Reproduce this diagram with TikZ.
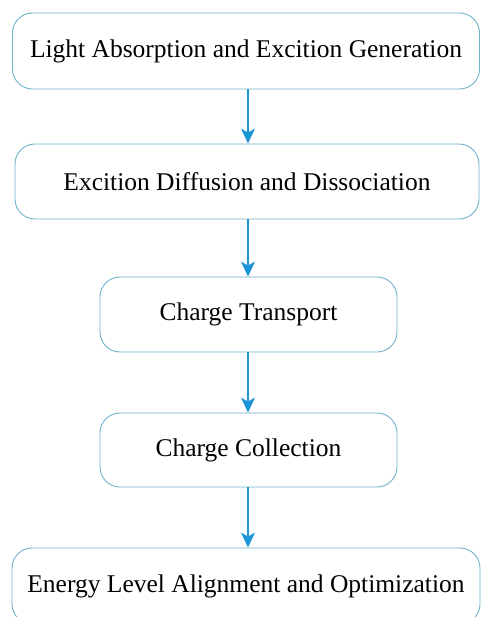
\documentclass[tikz,border=0pt]{standalone}
\usepackage{fontspec}
\setmainfont{Liberation Serif}
\usepackage{tikz}
\usetikzlibrary{arrows.meta}
\definecolor{boxline}{RGB}{112,178,202}
\definecolor{arrowblue}{RGB}{28,150,214}

\tikzset{
  stagebox/.style={draw=boxline,line width=0.9pt,rounded corners=20pt,
    fill=white,align=center,inner sep=0pt,
    font=\fontsize{25.5}{29}\selectfont},
  flowarrow/.style={draw=arrowblue,line width=1.6pt,
    -{Stealth[length=15pt,width=14pt,inset=4pt]}}
}

\begin{document}
\begin{tikzpicture}[x=1pt,y=-1pt]
  \useasboundingbox (0,0) rectangle (480,617);
  \node[stagebox,minimum width=467pt,minimum height=76pt] (absorb) at (246,51)
    {Light Absorption and Excition Generation};
  \node[stagebox,minimum width=464pt,minimum height=75pt] (diffuse) at (247,181.5)
    {Excition Diffusion and Dissociation};
  \node[stagebox,minimum width=297pt,minimum height=75pt] (transport) at (248.5,314.5)
    {Charge Transport};
  \node[stagebox,minimum width=297pt,minimum height=74pt] (collect) at (248.5,450)
    {Charge Collection};
  \node[stagebox,minimum width=468pt,minimum height=76pt] (align) at (246,586)
    {Energy Level Alignment and Optimization};
  % arrows between the stages
  \draw[flowarrow] (absorb.south -| 248,0) -- (diffuse.north -| 248,0);
  \draw[flowarrow] (diffuse.south -| 248,0) -- (transport.north -| 248,0);
  \draw[flowarrow] (transport.south -| 248,0) -- (collect.north -| 248,0);
  \draw[flowarrow] (collect.south -| 248,0) -- (align.north -| 248,0);
\end{tikzpicture}
\end{document}
